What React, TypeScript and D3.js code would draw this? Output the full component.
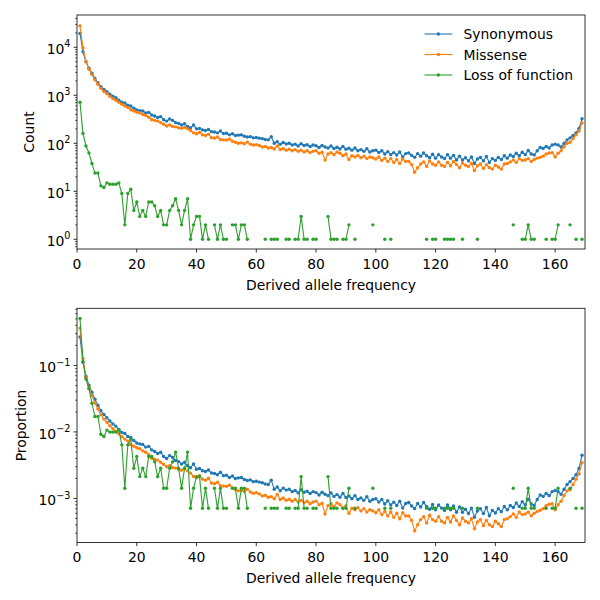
import React from "react";
import * as d3 from "d3";

// ---- data ----
const frequencies: number[] = d3.range(1, 170);

const synonymous: number[] = [
  19500, 8100, 5000, 3650, 2880, 2250, 1830, 1510, 1330, 1190,
  1060, 960, 890, 790, 715, 690, 620, 600, 540, 495,
  480, 470, 430, 440, 390, 370, 345, 360, 310, 290,
  320, 300, 270, 260, 240, 255, 225, 210, 240, 200,
  205, 190, 185, 195, 175, 172, 165, 180, 160, 162,
  150, 158, 145, 148, 150, 140, 135, 138, 130, 132,
  128, 125, 120, 118, 137, 100, 108, 95, 104, 97,
  100, 92, 96, 88, 98, 90, 93, 86, 92, 89,
  82, 90, 84, 80, 88, 78, 83, 76, 86, 75,
  79, 72, 80, 70, 74, 68, 77, 66, 70, 72,
  64, 70, 60, 67, 58, 64, 57, 66, 52, 61,
  63, 56, 51, 61, 54, 63, 55, 50, 59, 49,
  58, 52, 48, 58, 49, 56, 45, 54, 45, 50,
  43, 52, 38, 47, 51, 43, 53, 40, 48, 44,
  51, 46, 55, 49, 57, 53, 62, 55, 65, 58,
  71, 60, 57, 70, 82, 78, 86, 80, 92, 96,
  92, 84, 100, 118, 130, 145, 165, 205, 325,
];

const missense: number[] = [
  28000, 9800, 5100, 3500, 2700, 2100, 1700, 1400, 1200, 1080,
  950, 860, 790, 720, 650, 600, 560, 500, 470, 445,
  430, 400, 380, 350, 310, 300, 290, 270, 250, 230,
  240, 225, 220, 210, 205, 215, 200, 185, 165, 158,
  170, 150, 145, 155, 131, 128, 135, 120, 118, 117,
  122, 110, 105, 100, 102, 98, 106, 96, 92, 94,
  90, 84, 86, 80, 82, 76, 88, 74, 78, 72,
  75, 70, 74, 68, 72, 66, 70, 64, 68, 70,
  62, 65, 45, 60, 64, 58, 66, 62, 55, 60,
  46, 55, 52, 56, 50, 54, 48, 52, 50, 47,
  52, 44, 49, 42, 48, 40, 46, 38, 47, 42,
  42, 36, 25, 31, 37, 41, 33, 43, 37, 35,
  41, 35, 33, 40, 34, 42, 36, 31, 39, 35,
  33, 38, 27, 34, 37, 30, 36, 31, 29, 35,
  32, 29, 37, 38, 41, 45, 40, 48, 44, 45,
  48, 42, 46, 49, 51, 54, 60, 63, 64, 52,
  62, 70, 85, 100, 105, 125, 150, 180, 265,
];

const lossOfFunction: number[] = [
  715, 161, 88, 63, 38, 24, 24, 13, 12, 15,
  14, 14, 14, 15, 9, 2, 9, 11, 4, 6,
  3, 4, 3, 6, 6, 5, 3, 4, 2, 2,
  4, 5, 7, 4, 2, 4, 7, 1, 2, 3,
  3, 1, 2, 1, 0, 2, 1, 2, 1, 1,
  0, 2, 2, 1, 2, 2, 1, 0, 0, 0,
  0, 0, 1, 0, 1, 1, 1, 0, 0, 1,
  1, 0, 1, 1, 3, 1, 1, 0, 1, 1,
  0, 0, 0, 3, 1, 1, 1, 0, 1, 1,
  2, 0, 1, 0, 0, 0, 0, 0, 2, 0,
  0, 0, 1, 0, 1, 0, 0, 0, 0, 0,
  0, 0, 0, 0, 0, 0, 1, 0, 1, 1,
  0, 0, 1, 1, 1, 1, 0, 0, 1, 0,
  0, 0, 0, 1, 0, 0, 0, 0, 0, 0,
  0, 0, 0, 0, 0, 2, 0, 0, 1, 1,
  2, 1, 1, 0, 0, 0, 1, 0, 1, 1,
  2, 0, 0, 0, 2, 0, 1, 0, 1,
];

const seriesNames = ["Synonymous", "Missense", "Loss of function"];
const seriesColors = ["#1f77b4", "#ff7f0e", "#2ca02c"];
const xTicks = [0, 20, 40, 60, 80, 100, 120, 140, 160];
const xDomain = [0, 170];
const xLabel = "Derived allele frequency";

// ---- layout ----
const FONT = "DejaVu Sans, sans-serif";
const FS = 13.9;
const LEFT = 77;
const RIGHT = 585;

interface PanelCfg {
  top: number;
  bottom: number;
  logLo: number;
  logHi: number;
  majors: number[];
  label: string;
  proportion: boolean;
  labelX: number;
  tickDy: number;
  legend: boolean;
}

const panels: PanelCfg[] = [
  { top: 15, bottom: 249, logLo: -0.202, logHi: 4.673, majors: [0, 1, 2, 3, 4], label: "Count", proportion: false, labelX: 33.5, tickDy: 6.5, legend: true },
  { top: 308.3, bottom: 542.6, logLo: -3.664, logHi: -0.141, majors: [-3, -2, -1], label: "Proportion", proportion: true, labelX: 25.5, tickDy: 7, legend: false },
];

function Panel({ p }: { p: PanelCfg }) {
  const x = d3.scaleLinear().domain(xDomain).range([LEFT, RIGHT]);
  const y = d3.scaleLog().domain([10 ** p.logLo, 10 ** p.logHi]).range([p.bottom, p.top]);
  const all = [synonymous, missense, lossOfFunction].map((arr) => {
    const total = d3.sum(arr);
    return arr.map((v) => (p.proportion ? v / total : v));
  });
  const line = d3
    .line<number>()
    .defined((v) => v > 0)
    .x((_, i) => x(frequencies[i]))
    .y((v) => y(v));

  const minors: number[] = [];
  for (let k = Math.floor(p.logLo); k <= Math.ceil(p.logHi); k++) {
    for (let m = 2; m <= 9; m++) {
      const v = m * 10 ** k;
      const lv = Math.log10(v);
      if (lv >= p.logLo && lv <= p.logHi) minors.push(v);
    }
  }

  return (
    <g>
      {all.map((vals, si) => (
        <g key={si}>
          <path d={line(vals) || ""} fill="none" stroke={seriesColors[si]} strokeWidth={1.1} />
          {vals.map((v, i) =>
            v > 0 ? (
              <circle key={i} cx={x(frequencies[i])} cy={y(v)} r={1.7} fill={seriesColors[si]} />
            ) : null
          )}
        </g>
      ))}
      <rect x={LEFT} y={p.top} width={RIGHT - LEFT} height={p.bottom - p.top} fill="none" stroke="#000" strokeWidth={0.8} />
      {xTicks.map((t) => (
        <g key={t}>
          <line x1={x(t)} x2={x(t)} y1={p.bottom} y2={p.bottom + 3.5} stroke="#000" strokeWidth={0.8} />
          <text x={x(t)} y={p.bottom + 19.5} textAnchor="middle" fontFamily={FONT} fontSize={FS}>
            {t}
          </text>
        </g>
      ))}
      {minors.map((v, i) => (
        <line key={i} x1={LEFT - 2} x2={LEFT} y1={y(v)} y2={y(v)} stroke="#000" strokeWidth={0.6} />
      ))}
      {p.majors.map((k) => (
        <g key={k}>
          <line x1={LEFT - 3.5} x2={LEFT} y1={y(10 ** k)} y2={y(10 ** k)} stroke="#000" strokeWidth={0.8} />
          <text x={70.5} y={y(10 ** k) + p.tickDy} textAnchor="end" fontFamily={FONT} fontSize={FS}>
            10
            <tspan dy={-6.6} fontSize={9.7}>
              {k < 0 ? "\u2212" + Math.abs(k) : String(k)}
            </tspan>
          </text>
        </g>
      ))}
      <text x={(LEFT + RIGHT) / 2} y={p.bottom + 40.5} textAnchor="middle" fontFamily={FONT} fontSize={FS}>
        {xLabel}
      </text>
      <text
        transform={`translate(${p.labelX},${(p.top + p.bottom) / 2}) rotate(-90)`}
        textAnchor="middle"
        fontFamily={FONT}
        fontSize={FS}
      >
        {p.label}
      </text>
      {p.legend &&
        seriesNames.map((name, i) => {
          const ly = 34 + i * 20.5;
          return (
            <g key={name}>
              <line x1={424.5} x2={452.3} y1={ly} y2={ly} stroke={seriesColors[i]} strokeWidth={1.1} />
              <circle cx={438.4} cy={ly} r={1.7} fill={seriesColors[i]} />
              <text x={463.5} y={ly + 5} fontFamily={FONT} fontSize={FS}>
                {name}
              </text>
            </g>
          );
        })}
    </g>
  );
}

export default function App() {
  return (
    <svg width={600} height={600} style={{ position: "absolute", left: 0, top: 0, background: "#fff" }}>
      <rect x={0} y={0} width={600} height={600} fill="#fff" />
      {panels.map((p, i) => (
        <Panel key={i} p={p} />
      ))}
    </svg>
  );
}
